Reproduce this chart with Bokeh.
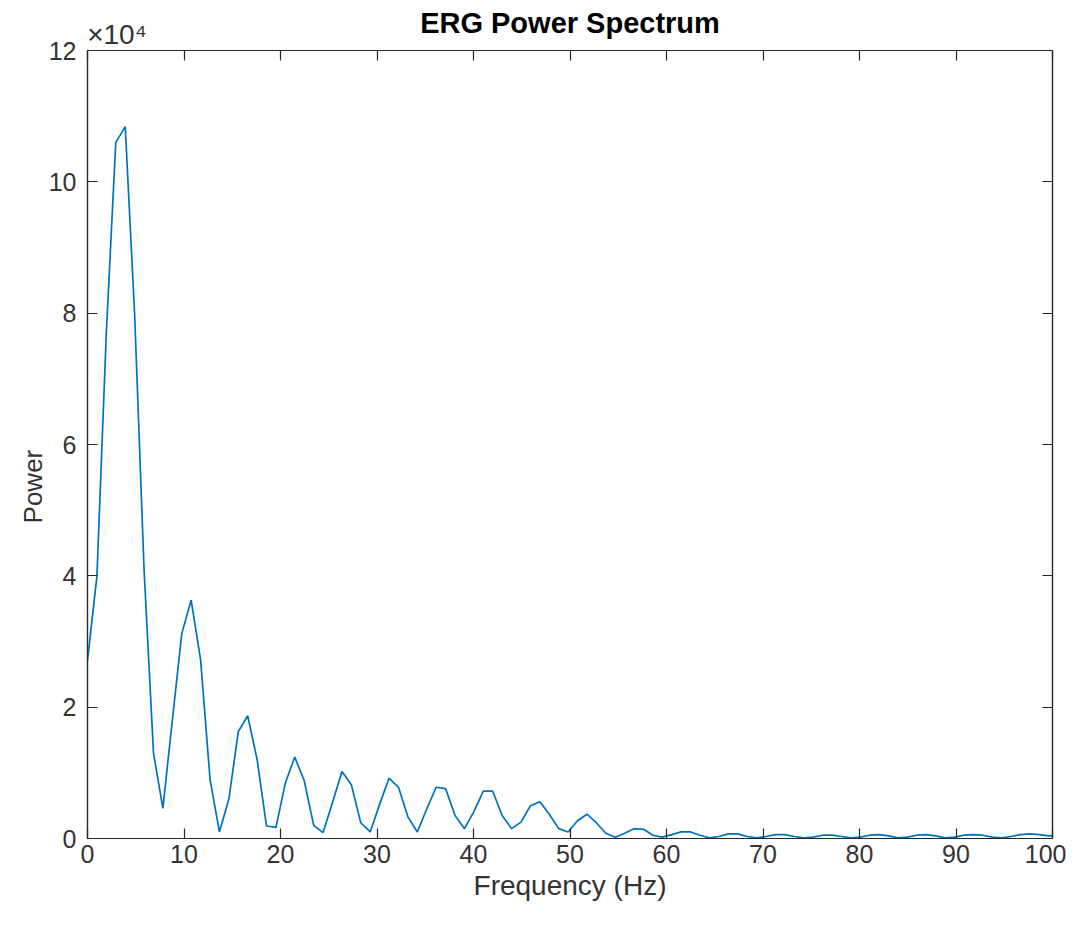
import math
from bokeh.plotting import figure
from bokeh.models import Range1d, FixedTicker, LinearAxis, CustomJSTickFormatter
from bokeh.embed import file_html
from bokeh.resources import INLINE

# ---- data ----
freq_hz = [
    0.00, 0.98, 1.95, 2.93, 3.91, 4.88, 5.86, 6.84, 7.81, 8.79,
    9.77, 10.74, 11.72, 12.70, 13.67, 14.65, 15.63, 16.60, 17.58, 18.55,
    19.53, 20.51, 21.48, 22.46, 23.44, 24.41, 25.39, 26.37, 27.34, 28.32,
    29.30, 30.27, 31.25, 32.23, 33.20, 34.18, 35.16, 36.13, 37.11, 38.09,
    39.06, 40.04, 41.02, 41.99, 42.97, 43.95, 44.92, 45.90, 46.88, 47.85,
    48.83, 49.80, 50.78, 51.76, 52.73, 53.71, 54.69, 55.66, 56.64, 57.62,
    58.59, 59.57, 60.55, 61.52, 62.50, 63.48, 64.45, 65.43, 66.41, 67.38,
    68.36, 69.34, 70.31, 71.29, 72.27, 73.24, 74.22, 75.20, 76.17, 77.15,
    78.13, 79.10, 80.08, 81.05, 82.03, 83.01, 83.98, 84.96, 85.94, 86.91,
    87.89, 88.87, 89.84, 90.82, 91.80, 92.77, 93.75, 94.73, 95.70, 96.68,
    97.66, 98.63, 99.61, 100.59,
]
power_x1e4 = [
    2.71, 4.0, 7.7, 10.6, 10.84, 8.0, 4.1, 1.3, 0.46, 1.8,
    3.12, 3.63, 2.72, 0.9, 0.1, 0.6, 1.63, 1.87, 1.2, 0.19,
    0.17, 0.85, 1.24, 0.88, 0.2, 0.09, 0.55, 1.02, 0.82, 0.24,
    0.1, 0.52, 0.92, 0.78, 0.33, 0.1, 0.45, 0.78, 0.76, 0.35,
    0.15, 0.41, 0.72, 0.72, 0.35, 0.15, 0.25, 0.5, 0.56, 0.37,
    0.15, 0.1, 0.27, 0.37, 0.24, 0.08, 0.02, 0.08, 0.15, 0.14,
    0.05, 0.02, 0.06, 0.1, 0.1, 0.05, 0.01, 0.03, 0.07, 0.07,
    0.03, 0.01, 0.03, 0.06, 0.06, 0.03, 0.01, 0.02, 0.05, 0.05,
    0.03, 0.01, 0.02, 0.05, 0.06, 0.04, 0.01, 0.02, 0.05, 0.06,
    0.04, 0.01, 0.02, 0.05, 0.06, 0.05, 0.02, 0.01, 0.03, 0.06,
    0.07, 0.06, 0.04, 0.05,
]
x_ticks = [0, 10, 20, 30, 40, 50, 60, 70, 80, 90, 100]
y_ticks = [0, 2, 4, 6, 8, 10, 12]
exponent_text = "\u00d710\u2074"
y_label_text = "Power"

# layout-only anchor positions for the exponent and the y label
EXP_POS_X = 3.05
YLAB_POS_Y = 5.92

FONT = "Liberation Sans"
AX = "#262626"
LBL = "#333333"

p = figure(width=1066, height=928, output_backend="svg", toolbar_location=None,
           x_range=Range1d(0, 100), y_range=Range1d(0, 12),
           min_border_left=87, min_border_right=14, min_border_top=50,
           min_border_bottom=90, title="ERG Power Spectrum")
p.title.align = "center"
p.title.text_font = FONT
p.title.text_font_size = "29px"
p.title.text_font_style = "bold"
p.title.text_color = "#000000"
p.title.standoff = -47

p.xgrid.visible = False
p.ygrid.visible = False
p.outline_line_color = AX
p.outline_line_width = 1.2
p.background_fill_color = "white"
p.border_fill_color = "white"

p.line(freq_hz, power_x1e4, line_color="#0072BD", line_width=1.7)


def style_ticks(ax):
    ax.major_tick_in = 10
    ax.major_tick_out = 0
    ax.minor_tick_in = 0
    ax.minor_tick_out = 0
    ax.axis_line_color = AX
    ax.axis_line_width = 1.2
    ax.major_tick_line_color = AX
    ax.major_tick_line_width = 1.2


for ax, ticks in ((p.xaxis[0], x_ticks), (p.yaxis[0], y_ticks)):
    ax.ticker = FixedTicker(ticks=ticks)
    style_ticks(ax)
    ax.major_label_text_font = FONT
    ax.major_label_text_font_size = "25px"
    ax.major_label_text_color = LBL
    ax.axis_label_text_font = FONT
    ax.axis_label_text_font_style = "normal"
    ax.axis_label_text_color = LBL

p.xaxis.axis_label = "Frequency (Hz)"
p.xaxis.axis_label_text_font_size = "28px"
p.xaxis.major_label_standoff = 6
p.xaxis.axis_label_standoff = 4
p.yaxis.major_label_standoff = 11

# mirrored ticks on top and right (box style), without labels
blank = CustomJSTickFormatter(code="return ''")
top = LinearAxis(ticker=FixedTicker(ticks=x_ticks), formatter=blank)
right = LinearAxis(ticker=FixedTicker(ticks=y_ticks), formatter=blank)
for ax in (top, right):
    style_ticks(ax)
    ax.major_label_standoff = 0
p.add_layout(top, "above")
p.add_layout(right, "right")

# exponent "x10^4" above the top-left corner
exp_ax = LinearAxis(ticker=FixedTicker(ticks=[EXP_POS_X]),
                    major_label_overrides={EXP_POS_X: exponent_text})
exp_ax.axis_line_color = None
exp_ax.major_tick_line_color = None
exp_ax.minor_tick_line_color = None
exp_ax.major_tick_in = 0
exp_ax.major_tick_out = 0
exp_ax.major_label_standoff = 1
exp_ax.major_label_text_font = FONT
exp_ax.major_label_text_font_size = "28px"
exp_ax.major_label_text_color = LBL
p.add_layout(exp_ax, "above")

# y-axis title "Power" (vertical)
ylab_ax = LinearAxis(ticker=FixedTicker(ticks=[YLAB_POS_Y]),
                     major_label_overrides={YLAB_POS_Y: y_label_text})
ylab_ax.axis_line_color = None
ylab_ax.major_tick_line_color = None
ylab_ax.minor_tick_line_color = None
ylab_ax.major_tick_in = 0
ylab_ax.major_tick_out = 0
ylab_ax.major_label_standoff = 12
ylab_ax.major_label_orientation = math.pi / 2
ylab_ax.major_label_text_font = FONT
ylab_ax.major_label_text_font_size = "26px"
ylab_ax.major_label_text_color = LBL
p.add_layout(ylab_ax, "left")

open("out.html", "w").write(file_html(p, INLINE))
